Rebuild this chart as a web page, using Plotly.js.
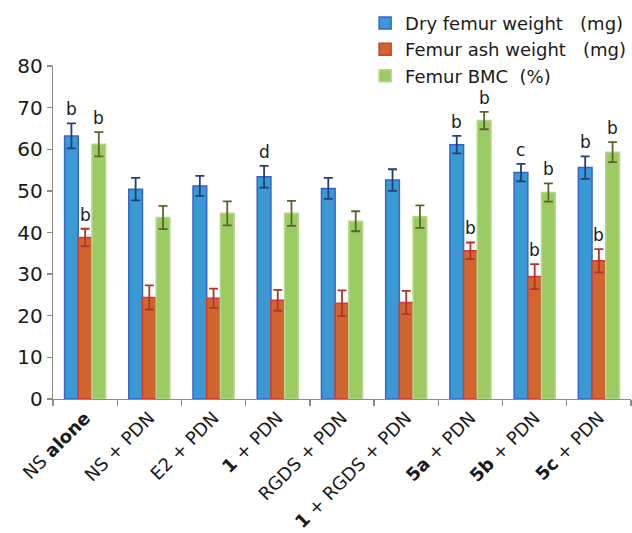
<!DOCTYPE html>
<html>
<head>
<meta charset="utf-8">
<script src="https://cdn.plot.ly/plotly-3.0.1.min.js"></script>
<style>html,body{margin:0;padding:0;background:#fff;}#chart{width:632px;height:533px;}</style>
</head>
<body>
<div id="chart"></div>
<script>
var categories = ['NS <b>alone</b>', 'NS + PDN', 'E2 + PDN', '<b>1</b> + PDN', 'RGDS + PDN', '<b>1</b> + RGDS + PDN', '<b>5a</b> + PDN', '<b>5b</b> + PDN', '<b>5c</b> + PDN'];

var dryWeight = [63.2, 50.4, 51.2, 53.4, 50.6, 52.6, 61.1, 54.4, 55.6];
var dryErr    = [3.0, 2.7, 2.4, 2.6, 2.5, 2.6, 2.1, 2.1, 2.7];
var ashWeight = [38.8, 24.4, 24.2, 23.7, 23.0, 23.2, 35.6, 29.4, 33.2];
var ashErr    = [2.1, 2.9, 2.3, 2.5, 3.1, 2.8, 2.0, 3.0, 2.8];
var bmc       = [61.2, 43.6, 44.6, 44.6, 42.7, 43.8, 66.9, 49.6, 59.3];
var bmcErr    = [2.9, 2.8, 2.9, 3.0, 2.4, 2.7, 2.1, 2.2, 2.4];

var dryLetters = ['b', '', '', 'd', '', '', 'b', 'c', 'b'];
var ashLetters = ['b', '', '', '', '', '', 'b', 'b', 'b'];
var bmcLetters = ['b', '', '', '', '', '', 'b', 'b', 'b'];

var seriesNames = ['Dry femur weight&nbsp;&nbsp;&nbsp;(mg)', 'Femur ash weight&nbsp;&nbsp;&nbsp;(mg)', 'Femur BMC&nbsp;&nbsp;(%)'];

var FONT = 'DejaVu Sans, Verdana, sans-serif';
var bargap = 0.36;

function barTrace(name, y, err, fill, line, errColor, grp) {
  return {
    type: 'bar', name: name, x: categories, y: y,
    legendgroup: grp,
    marker: {color: fill, line: {color: line, width: 1.5}},
    error_y: {type: 'data', array: err, visible: true, color: errColor, thickness: 1.8, width: 4.5},
    hoverinfo: 'x+y'
  };
}

var traces = [
  barTrace(seriesNames[0], dryWeight, dryErr, '#3A98D2', '#3466CC', '#243F73', 'a'),
  barTrace(seriesNames[1], ashWeight, ashErr, '#D0652F', '#D23A32', '#B8302C', 'b'),
  barTrace(seriesNames[2], bmc, bmcErr, '#9CCB62', '#B3D88F', '#5E6430', 'c')
];

var annotations = [];
var barW = (1 - bargap) / 3;
function addLetters(letters, vals, errs, k) {
  for (var i = 0; i < letters.length; i++) {
    if (!letters[i]) continue;
    annotations.push({
      xref: 'x', yref: 'y', x: i + (k - 1) * barW, y: vals[i] + errs[i],
      text: letters[i], showarrow: false, yanchor: 'bottom', yshift: 2,
      font: {family: FONT, size: 17, color: '#1a1a1a'}
    });
  }
}
addLetters(dryLetters, dryWeight, dryErr, 0);
addLetters(ashLetters, ashWeight, ashErr, 1);
addLetters(bmcLetters, bmc, bmcErr, 2);

var layout = {
  width: 632, height: 533,
  margin: {l: 53, r: 1, t: 66, b: 134},
  paper_bgcolor: '#fff', plot_bgcolor: '#fff',
  barmode: 'group', bargap: bargap, bargroupgap: 0,
  font: {family: FONT, color: '#1a1a1a'},
  showlegend: true,
  legend: {
    x: 0.54, xanchor: 'left', y: 1.184, yanchor: 'top',
    font: {family: FONT, size: 18, color: '#1a1a1a'},
    traceorder: 'grouped', tracegroupgap: 0,
    bgcolor: 'rgba(0,0,0,0)'
  },
  xaxis: {
    type: 'category',
    showline: true, linecolor: '#8c8c8c', linewidth: 1.3,
    ticks: 'outside', tickson: 'boundaries', ticklen: 6, tickcolor: '#8c8c8c', tickwidth: 1.3,
    tickangle: -45,
    tickfont: {family: FONT, size: 18, color: '#1a1a1a'},
    showgrid: false, zeroline: false
  },
  yaxis: {
    range: [0, 80], dtick: 10,
    showline: true, linecolor: '#8c8c8c', linewidth: 1.3,
    ticks: 'outside', ticklen: 5, tickcolor: '#8c8c8c', tickwidth: 1.3,
    tickfont: {family: FONT, size: 20, color: '#1a1a1a'},
    showgrid: false, zeroline: false
  },
  annotations: annotations
};

Plotly.newPlot('chart', traces, layout, {displayModeBar: false, staticPlot: true});
</script>
</body>
</html>
